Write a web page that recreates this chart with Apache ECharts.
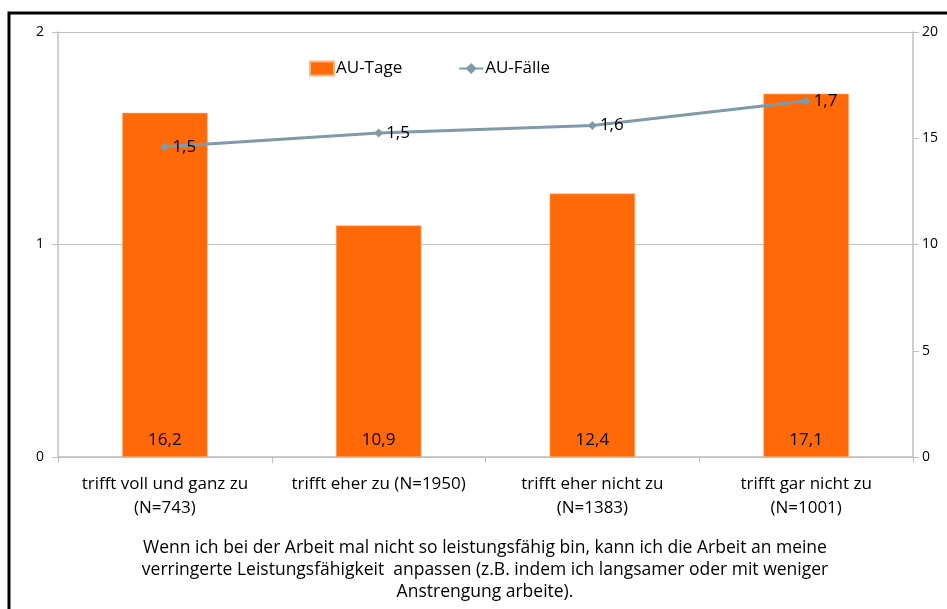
<!DOCTYPE html>
<html>
<head>
<meta charset="utf-8">
<script src="https://cdn.jsdelivr.net/npm/echarts@6/dist/echarts.min.js"></script>
<style>
  html, body { margin: 0; padding: 0; background: #fff; }
  #chart { width: 947px; height: 609px; }
</style>
</head>
<body>
<div id="chart"></div>
<script>
// Categories (answers with sample sizes)
const categories = [
  'trifft voll und ganz zu\n(N=743)',
  'trifft eher zu (N=1950)',
  'trifft eher nicht zu\n(N=1383)',
  'trifft gar nicht zu\n(N=1001)'
];
// AU-Tage (bars, right axis)
const auTage = [16.2, 10.9, 12.4, 17.1];
// AU-Fälle (line, left axis)
const auFaelle = [1.46, 1.525, 1.56, 1.675];
// Axis ticks
const leftTicks = { min: 0, max: 2, interval: 1 };
const rightTicks = { min: 0, max: 20, interval: 5 };

const fontFamily = '"Open Sans", Lato, sans-serif';
const textSize = 17;
const fmt = v => v.toFixed(1).replace('.', ',');

const chart = echarts.init(document.getElementById('chart'));
chart.setOption({
  animation: false,
  textStyle: { fontFamily: fontFamily },
  graphic: [
    {
      type: 'rect',
      shape: { x: 9, y: 13, width: 960, height: 620 },
      style: { fill: 'none', stroke: '#000', lineWidth: 3 },
      silent: true
    },
    {
      type: 'text',
      x: 485,
      y: 537,
      style: {
        text: 'Wenn ich bei der Arbeit mal nicht so leistungsfähig bin, kann ich die Arbeit an meine\nverringerte Leistungsfähigkeit  anpassen (z.B. indem ich langsamer oder mit weniger\nAnstrengung arbeite).',
        align: 'center',
        verticalAlign: 'top',
        font: '17.5px ' + fontFamily,
        lineHeight: 22,
        fill: '#000'
      }
    }
  ],
  legend: {
    top: 55,
    left: 304,
    itemGap: 56,
    itemWidth: 24,
    itemHeight: 14,
    textStyle: { fontSize: textSize, color: '#000', fontFamily: fontFamily, padding: [0, 0, 0, -3] },
    data: [
      { name: 'AU-Tage', icon: 'rect' },
      { name: 'AU-Fälle' }
    ]
  },
  grid: { left: 58, right: 34, top: 32, bottom: 152 },
  xAxis: {
    type: 'category',
    data: categories,
    axisLine: { lineStyle: { color: '#bfbfbf', width: 1.5 } },
    axisTick: { show: true, length: 6, interval: 0, lineStyle: { color: '#bfbfbf' } },
    axisLabel: {
      interval: 0,
      margin: 15,
      fontSize: textSize,
      lineHeight: 24,
      color: '#000',
      fontFamily: fontFamily
    }
  },
  yAxis: [
    {
      type: 'value',
      position: 'left',
      min: leftTicks.min,
      max: leftTicks.max,
      interval: leftTicks.interval,
      axisLine: { show: true, lineStyle: { color: '#bfbfbf', width: 1.5 } },
      axisTick: { show: true, length: 6, lineStyle: { color: '#bfbfbf' } },
      axisLabel: { margin: 14, fontSize: 14, color: '#000', fontFamily: fontFamily },
      splitLine: { show: true, lineStyle: { color: '#bfbfbf', width: 1 } }
    },
    {
      type: 'value',
      position: 'right',
      min: rightTicks.min,
      max: rightTicks.max,
      interval: rightTicks.interval,
      axisLine: { show: true, lineStyle: { color: '#bfbfbf', width: 1.5 } },
      axisTick: { show: true, length: 6, lineStyle: { color: '#bfbfbf' } },
      axisLabel: { margin: 9, fontSize: 14, color: '#000', fontFamily: fontFamily },
      splitLine: { show: false }
    }
  ],
  series: [
    {
      name: 'AU-Tage',
      type: 'bar',
      yAxisIndex: 1,
      data: auTage,
      barWidth: '40%',
      itemStyle: { color: '#ff6908', borderColor: '#ffb27f', borderWidth: 0.6 },
      label: {
        show: true,
        position: 'insideBottom',
        distance: 8,
        fontSize: textSize,
        color: '#000',
        fontFamily: fontFamily,
        formatter: p => fmt(p.value)
      },
      z: 2
    },
    {
      name: 'AU-Fälle',
      type: 'line',
      yAxisIndex: 0,
      data: auFaelle,
      symbol: 'diamond',
      symbolSize: 9,
      lineStyle: { color: '#7f9aa8', width: 3 },
      itemStyle: { color: '#7f9aa8' },
      label: {
        show: true,
        position: 'right',
        distance: 3,
        fontSize: textSize,
        color: '#000',
        fontFamily: fontFamily,
        formatter: p => fmt(p.value)
      },
      z: 3
    }
  ]
});
</script>
</body>
</html>
